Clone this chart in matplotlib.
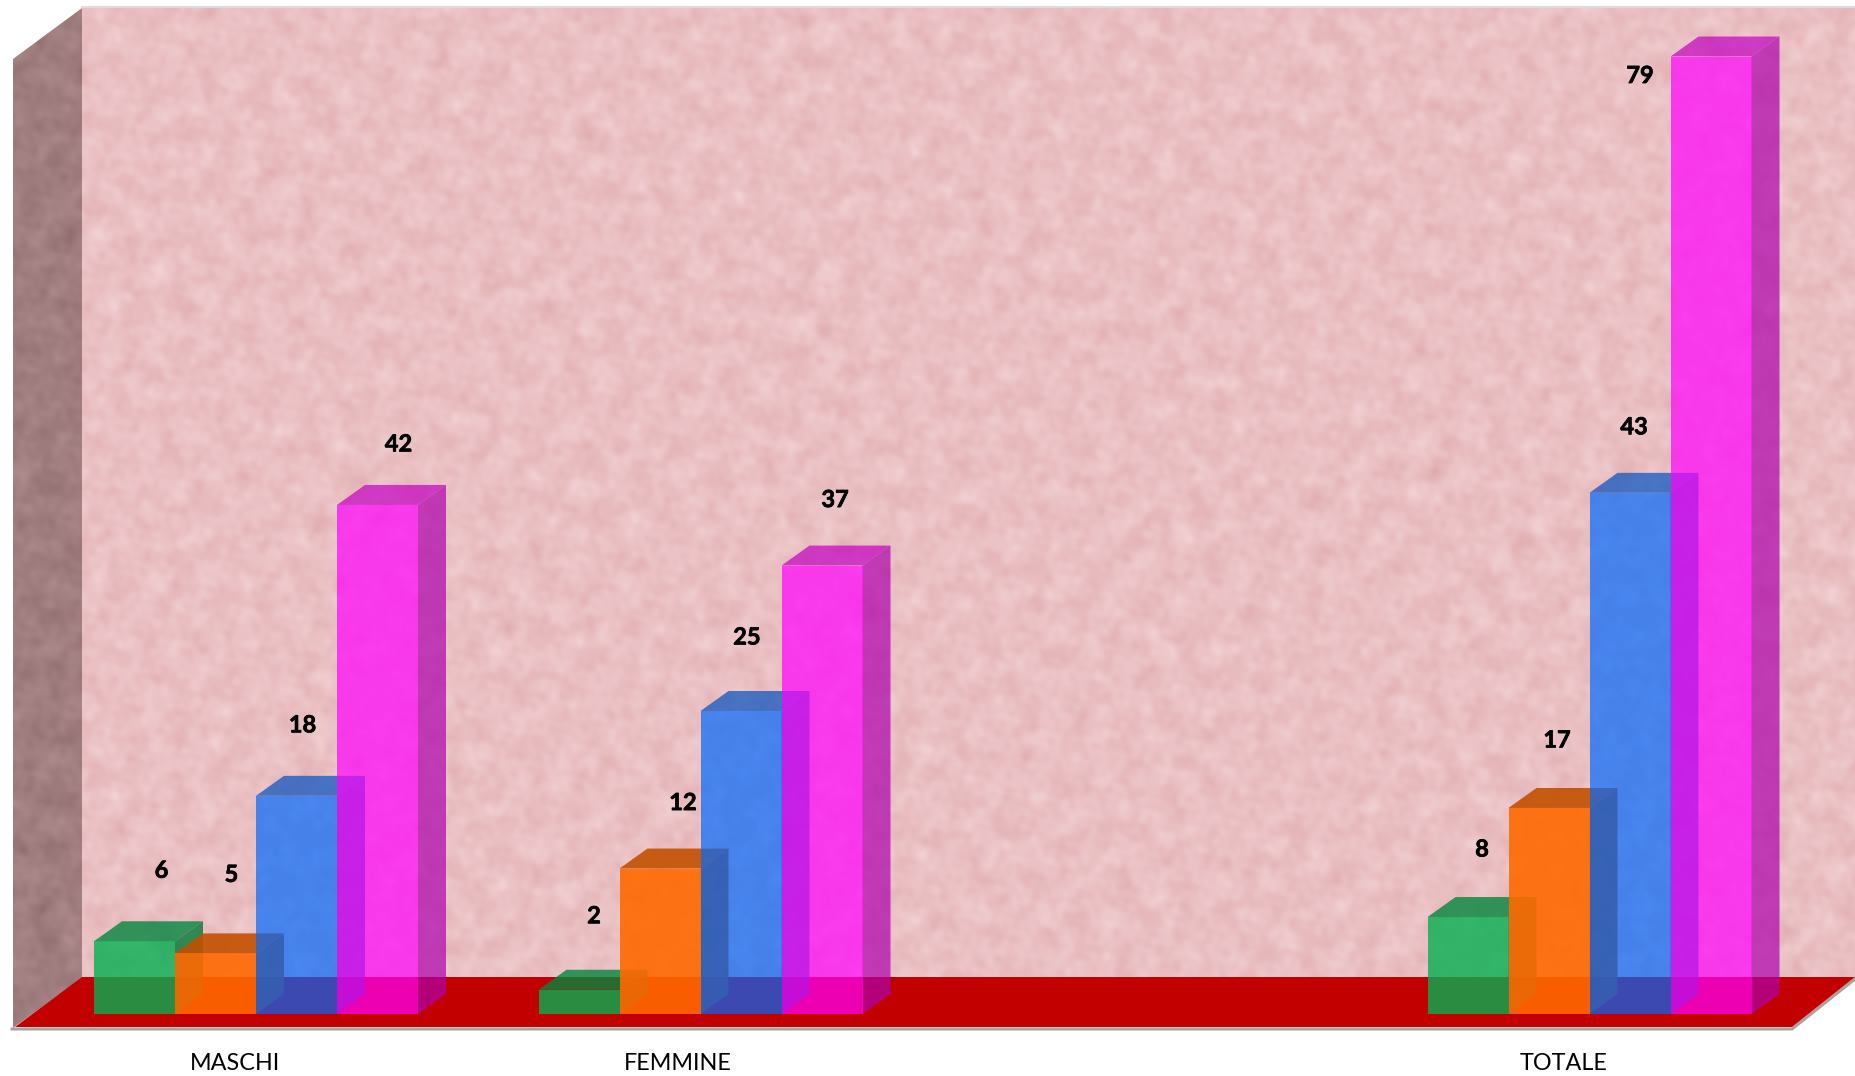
import numpy as np
import matplotlib
matplotlib.use("Agg")
import matplotlib.pyplot as plt
import matplotlib.patheffects as pe
from matplotlib.patches import Polygon

categories = ["MASCHI", "FEMMINE", "", "TOTALE"]
series_green = [6, 2, None, 8]
series_orange = [5, 12, None, 17]
series_blue = [18, 25, None, 43]
series_magenta = [42, 37, None, 79]
series_colors = ["#04B051", "#FF6900", "#0269FD", "#FF00FD"]
series_alpha = [0.8, 0.9, 0.7, 0.7]
# label offsets from the bar's top centre, in pixels (the original placed them by hand)
label_dx = [[27, 16, 6, 21], [15, 23, 6, 13], None, [14, 8, 4, -71]]
label_dy = [[71, 79, 71, 61], [74, 66, 74, 66], None, [68, 68, 66, -19]]
tick_shift = {0: -21, 1: -22.5, 3: -25.5}

W, H = 1855, 1076
fig = plt.figure(figsize=(W / 100, H / 100), dpi=100, facecolor="white")

# background box, drawn in pixel coordinates
bg = fig.add_axes([0, 0, 1, 1])
bg.set_xlim(0, W)
bg.set_ylim(H, 0)
bg.axis("off")


def mottled(w, h, lo, hi, squash=1.0):
    yy, xx = np.mgrid[0:h, 0:w]
    out = np.zeros((h, w), dtype=float)
    phi = (1 + 5 ** 0.5) / 2
    for k in range(1, 110):
        ang = k * phi * 2 * np.pi
        wave = lo + (k * 13 % 97) / 97 * (hi - lo)
        out += np.sin((xx * np.cos(ang) + yy * np.sin(ang) * squash) * 2 * np.pi / wave + k * k * 0.7)
    return out / out.std()


def enlarge(t):
    t = np.kron(t, np.ones((2, 2)))[:H, :W]
    return np.pad(t, ((0, H - t.shape[0]), (0, W - t.shape[1])), mode="edge")


tex = enlarge(mottled(W // 2 + 1, H // 2 + 1, 5, 32))
wall_rgb = np.dstack([234 + 2 * tex, 192 + 4.5 * tex, 195 + 4.5 * tex])
im = bg.imshow(np.clip(wall_rgb, 0, 255).astype(np.uint8), extent=(0, W, H, 0), aspect="auto", zorder=1, interpolation="bilinear")
im.set_clip_path(Polygon([(82, 8), (W, 8), (W, 978), (82, 978)], transform=bg.transData))

side_rgb = np.dstack([160 + 4 * tex, 126 + 4 * tex, 128 + 4 * tex])
im2 = bg.imshow(np.clip(side_rgb, 0, 255).astype(np.uint8), extent=(0, W, H, 0), aspect="auto", zorder=1, interpolation="bilinear")
im2.set_clip_path(Polygon([(13, 59), (82, 8), (82, 978), (13, 1028)], transform=bg.transData))
bg.set_xlim(0, W)
bg.set_ylim(H, 0)

bg.plot([82, W], [7, 7], color="#dddddd", lw=1.5, zorder=2)
bg.plot([12, 1792, W], [1029, 1029, 979], color="#a9a3a0", lw=2.2, zorder=2)
bg.add_patch(Polygon([(15, 1027), (82, 977), (W, 977), (1792, 1027)], closed=True, facecolor="#C30000", edgecolor="none", zorder=3))

# main chart axes: category index on x, value on y
ppu = 12.12      # pixels per value unit
ppc = 444.5      # pixels per category
base_px = 1014
bottom_px = 1029
center0_px = 256
ax = fig.add_axes([0, (H - bottom_px) / H, 1, bottom_px / H])
ax.patch.set_alpha(0)
ax.set_xlim(-center0_px / ppc, (W - center0_px) / ppc)
ax.set_ylim(-(bottom_px - base_px) / ppu, base_px / ppu)
for s in ax.spines.values():
    s.set_visible(False)
ax.set_yticks([])

bar_w = 81 / ppc
depth_x = 28 / ppc
depth_y = 20 / ppu
all_series = [series_green, series_orange, series_blue, series_magenta]


def shade(c, f):
    r = matplotlib.colors.to_rgb(c)
    return tuple(v * f for v in r)


z = 3
for j, (vals, col, alp) in enumerate(zip(all_series, series_colors, series_alpha)):
    for i, v in enumerate(vals):
        if v is None:
            continue
        x0 = i + (j - 2) * bar_w
        ax.add_patch(Polygon([(x0 + bar_w, 0), (x0 + bar_w + depth_x, depth_y),
                              (x0 + bar_w + depth_x, v + depth_y), (x0 + bar_w, v)],
                             closed=True, facecolor=shade(col, 0.68), alpha=alp, edgecolor="none", zorder=z))
        ax.add_patch(Polygon([(x0, v), (x0 + depth_x, v + depth_y),
                              (x0 + bar_w + depth_x, v + depth_y), (x0 + bar_w, v)],
                             closed=True, facecolor=shade(col, 0.76), alpha=alp, edgecolor="none", zorder=z))
    heights = [0 if v is None else v for v in vals]
    xs = [i + (j - 2) * bar_w for i in range(len(vals))]
    ax.bar(xs, heights, width=bar_w, align="edge", color=col, alpha=alp, linewidth=0, zorder=z + 0.5)
    z += 1

for j, vals in enumerate(all_series):
    for i, v in enumerate(vals):
        if v is None:
            continue
        xc = i + (j - 1.5) * bar_w
        t = ax.annotate(str(v), xy=(xc, v), xytext=(label_dx[i][j], label_dy[i][j]), textcoords="offset pixels",
                        ha="center", va="center", fontsize=17, fontweight="bold", family="Lato", color="black", zorder=20)
        t.set_path_effects([pe.withStroke(linewidth=0.5, foreground="black")])

tick_idx = [i for i, c in enumerate(categories) if c]
ax.set_xticks([i + tick_shift[i] / ppc for i in tick_idx])
ax.set_xticklabels([categories[i] for i in tick_idx], fontsize=16.8, family="Lato", color="black")
ax.tick_params(axis="x", length=0, pad=17.5)

fig.savefig("out.png", dpi=100)
